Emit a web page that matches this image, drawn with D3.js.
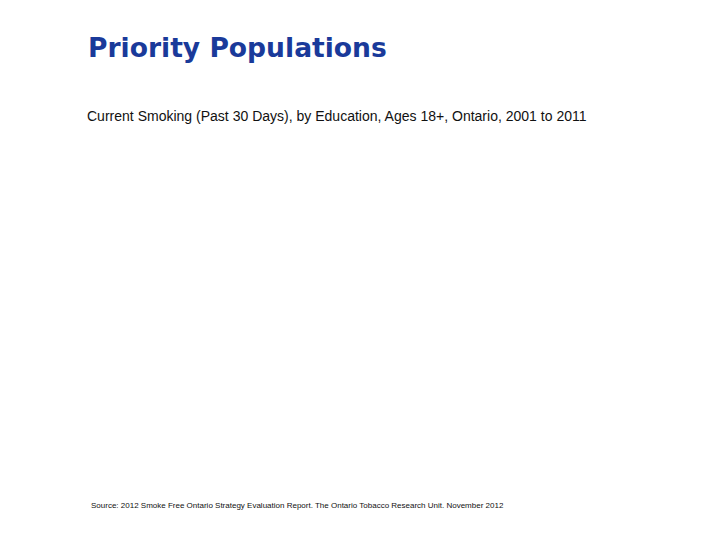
<!DOCTYPE html>
<html>
<head>
<meta charset="utf-8">
<script src="https://cdn.jsdelivr.net/npm/d3@7"></script>
<style>
  body { margin: 0; background: #fff; }
</style>
</head>
<body>
<div id="slide"></div>
<script>
// slide texts (the chart area itself is empty in the source)
const titleText = "Priority Populations";
const subtitleText = "Current Smoking (Past 30 Days), by Education, Ages 18+, Ontario, 2001 to 2011";
const sourceText = "Source: 2012 Smoke Free Ontario Strategy Evaluation Report. The Ontario Tobacco Research Unit. November 2012";

// no series values are shown in the picture
const categories = [];
const values = [];

let width = 720, height = 540;

let svg = d3.select("#slide").append("svg")
    .attr("width", width)
    .attr("height", height);

svg.append("rect")
    .attr("width", width)
    .attr("height", height)
    .attr("fill", "#fff");

// fit text to a target width by adjusting font size
function fitText(sel, targetWidth) {
    let size = parseFloat(sel.attr("font-size"));
    let w = sel.node().getComputedTextLength();
    if (w > 0) sel.attr("font-size", size * targetWidth / w);
}

let title = svg.append("text")
    .attr("x", 88)
    .attr("y", 57)
    .attr("font-family", "DejaVu Sans, Verdana, sans-serif")
    .attr("font-weight", "bold")
    .attr("font-size", 24)
    .attr("fill", "#1a3a9a")
    .text(titleText);
fitText(title, 299);

let subtitle = svg.append("text")
    .attr("x", 87)
    .attr("y", 121)
    .attr("font-family", "Liberation Sans, Arial, sans-serif")
    .attr("font-size", 14)
    .attr("fill", "#111")
    .text(subtitleText);
fitText(subtitle, 500);

let source = svg.append("text")
    .attr("x", 91)
    .attr("y", 508)
    .attr("font-family", "Liberation Sans, Arial, sans-serif")
    .attr("font-size", 8)
    .attr("fill", "#111")
    .text(sourceText);
fitText(source, 413);
</script>
</body>
</html>
